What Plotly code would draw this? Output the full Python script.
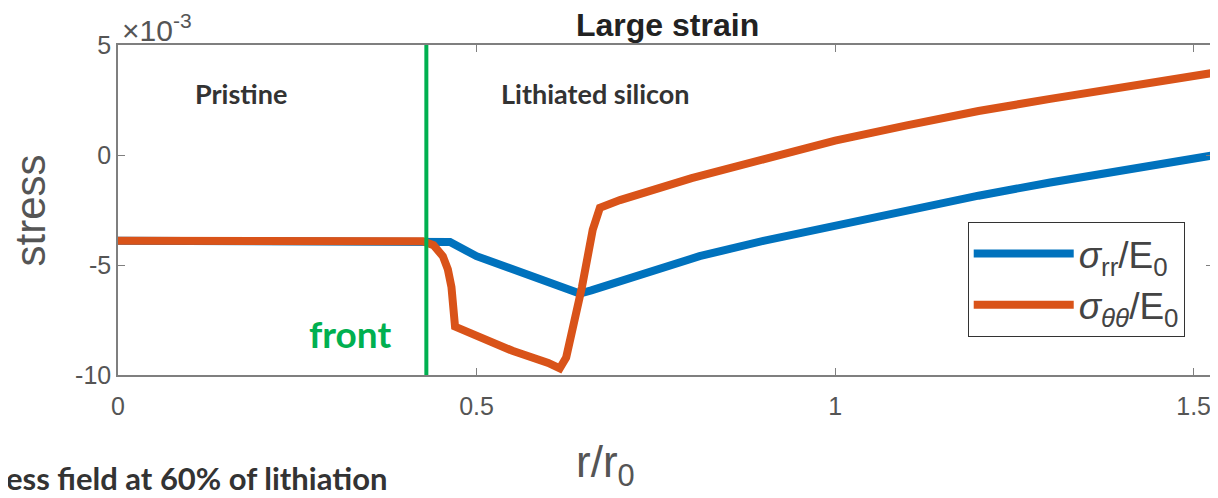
import plotly.graph_objects as go

# Data (stress in units of 1e-3)
x_tt = [0.00, 0.40, 0.425, 0.440, 0.453, 0.460, 0.465, 0.470, 0.50, 0.55, 0.60, 0.616,
        0.625, 0.634, 0.647, 0.662, 0.672, 0.70, 0.75, 0.80, 0.90, 1.00, 1.10, 1.20,
        1.30, 1.40, 1.50, 1.53]
y_tt = [-3.9, -3.9, -3.92, -4.1, -4.6, -5.2, -6.0, -7.8, -8.2, -8.9, -9.45, -9.7,
        -9.2, -7.9, -6.0, -3.4, -2.4, -2.05, -1.55, -1.05, -0.2, 0.65, 1.35, 2.0,
        2.55, 3.1, 3.6, 3.75]

x_rr = [0.00, 0.40, 0.43, 0.45, 0.463, 0.50, 0.55, 0.60, 0.644, 0.66, 0.70, 0.75,
        0.811, 0.90, 1.00, 1.10, 1.20, 1.30, 1.40, 1.50, 1.53]
y_rr = [-3.9, -3.9, -3.9, -3.92, -3.95, -4.6, -5.2, -5.8, -6.3, -6.15, -5.75, -5.2,
        -4.6, -3.9, -3.2, -2.5, -1.85, -1.25, -0.7, -0.15, 0.0]

front_x = 0.43
x_ticks = [0, 0.5, 1, 1.5]
x_ticklabels = ["0", "0.5", "1", "1.5"]
y_ticks = [-10, -5, 0, 5]
y_ticklabels = ["-10", "-5", "0", "5"]

blue = "#0072BD"
orange = "#D95319"
green = "#00B050"
axis_gray = "#7f7f7f"
tick_font = dict(family="Liberation Sans, Arial", size=25, color="#555555")

fig = go.Figure()
fig.add_trace(go.Scatter(x=x_rr, y=y_rr, mode="lines", line=dict(color=blue, width=8),
                         name="<i>σ</i><sub>rr</sub>/E<sub>0</sub>", legendgroup="rr"))
fig.add_trace(go.Scatter(x=x_tt, y=y_tt, mode="lines", line=dict(color=orange, width=8),
                         name="<i>σ</i><sub><i>θθ</i></sub>/E<sub>0</sub>", legendgroup="tt"))
fig.add_trace(go.Scatter(x=[front_x, front_x], y=[-10.3, 5], mode="lines",
                         line=dict(color=green, width=4), showlegend=False, cliponaxis=False))

fig.update_xaxes(range=[0, 1.527], tickvals=x_ticks, ticktext=x_ticklabels,
                 showline=True, linecolor=axis_gray, linewidth=1.5, mirror="ticks",
                 ticks="inside", ticklen=7, tickcolor=axis_gray, showgrid=False,
                 zeroline=False, tickfont=tick_font, automargin=False,
                 ticklabelstandoff=8)
fig.update_yaxes(range=[-10, 5], tickvals=y_ticks, ticktext=y_ticklabels,
                 showline=True, linecolor=axis_gray, linewidth=1.5, mirror="ticks",
                 ticks="inside", ticklen=7, tickcolor=axis_gray, showgrid=False,
                 zeroline=False, tickfont=tick_font, automargin=False)

ann = []
ann.append(dict(text="×10<sup>-3</sup>", xref="paper", yref="paper", x=0.002, y=1.05,
                xanchor="left", yanchor="middle", showarrow=False,
                font=dict(family="Liberation Sans, Arial", size=30, color="#555555")))
ann.append(dict(text="<b>Large strain</b>", xref="paper", yref="paper", x=0.502, y=1.061,
                xanchor="center", yanchor="middle", showarrow=False,
                font=dict(family="Liberation Sans, Arial", size=32, color="#222222")))
ann.append(dict(text="<b>Pristine</b>", x=0.171, y=2.8, showarrow=False,
                font=dict(family="Lato, Open Sans", size=27, color="#333333")))
ann.append(dict(text="<b>Lithiated silicon</b>", x=0.666, y=2.8, showarrow=False,
                font=dict(family="Lato, Open Sans", size=27, color="#333333")))
ann.append(dict(text="<b>front</b>", x=0.323, y=-8.1, showarrow=False,
                font=dict(family="Lato, Open Sans", size=37, color=green)))
ann.append(dict(text="stress", xref="paper", yref="paper", x=-0.080, y=0.5, textangle=-90,
                showarrow=False, xanchor="center", yanchor="middle",
                font=dict(family="Liberation Sans, Arial", size=42, color="#555555")))
ann.append(dict(text="r/r<sub>0</sub>", xref="paper", yref="paper", x=0.445, y=-0.273,
                showarrow=False, xanchor="center", yanchor="middle",
                font=dict(family="Liberation Sans, Arial", size=44, color="#555555")))
ann.append(dict(text="<b>Stress field at 60% of lithiation</b>", xref="paper", yref="paper",
                x=0.2484, y=-0.312, showarrow=False, xanchor="right", yanchor="middle",
                font=dict(family="Lato, Open Sans", size=31, color="#333333")))

fig.update_layout(
    width=1210, height=490,
    margin=dict(l=110, r=5, t=37, b=123, autoexpand=False),
    plot_bgcolor="white", paper_bgcolor="white",
    annotations=ann,
    legend=dict(x=0.776, y=0.4636, xanchor="left", yanchor="top",
                bordercolor="#333333", borderwidth=1, bgcolor="white",
                itemwidth=100, tracegroupgap=24, traceorder="normal",
                font=dict(family="Liberation Sans, Arial", size=37, color="#444444")),
)

fig.write_html("out.html")
